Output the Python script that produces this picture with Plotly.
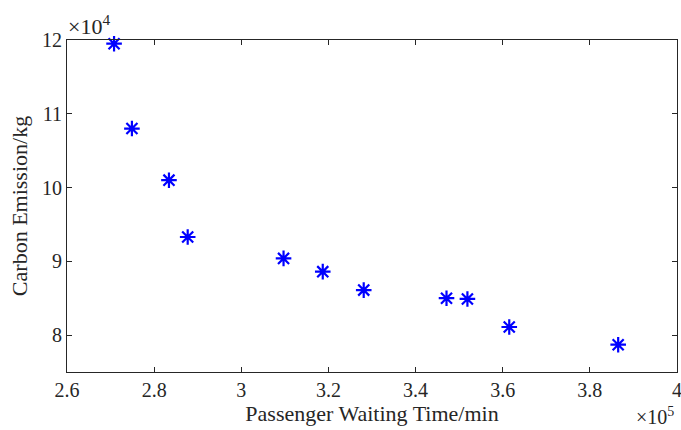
import plotly.graph_objects as go

waiting_time = [2.708, 2.749, 2.834, 2.877, 3.097, 3.187, 3.281, 3.471, 3.519, 3.615, 3.865]
carbon = [11.95, 10.80, 10.10, 9.33, 9.04, 8.86, 8.61, 8.50, 8.49, 8.11, 7.87]
x_ticks = [2.6, 2.8, 3.0, 3.2, 3.4, 3.6, 3.8, 4.0]
x_labels = ["2.6", "2.8", "3", "3.2", "3.4", "3.6", "3.8", "4"]
y_ticks = [8, 9, 10, 11, 12]
y_labels = ["8", "9", "10", "11", "12"]

FONT = "Liberation Serif, Times New Roman, serif"
INK = "#262626"

fig = go.Figure()
fig.add_trace(go.Scatter(
    x=waiting_time, y=carbon, mode="markers",
    marker=dict(symbol="asterisk-open", size=13, color="#0000ff",
                line=dict(color="#0000ff", width=2.2)),
    showlegend=False, cliponaxis=False,
))

axis_common = dict(
    showline=True, linecolor=INK, linewidth=1, mirror="ticks",
    ticks="inside", ticklen=5, tickcolor=INK, tickwidth=1,
    showgrid=False, zeroline=False, ticklabeloverflow="allow",
    tickfont=dict(family=FONT, size=20, color=INK),
)

fig.update_layout(
    width=681, height=430,
    margin=dict(l=67, r=4, t=40, b=58),
    paper_bgcolor="white", plot_bgcolor="white",
    xaxis=dict(range=[2.6, 4.0], tickvals=x_ticks, ticktext=x_labels,
               title=dict(text="Passenger Waiting Time/min", standoff=2,
                          font=dict(family=FONT, size=22, color=INK)),
               automargin=False, **axis_common),
    yaxis=dict(range=[7.5, 12], tickvals=y_ticks, ticktext=y_labels,
               title=dict(text="Carbon Emission/kg", standoff=8,
                          font=dict(family=FONT, size=22, color=INK)),
               automargin=False, **axis_common),
    annotations=[
        dict(text="×10<sup>4</sup>", xref="paper", yref="paper", x=0, y=1,
             xanchor="left", yanchor="bottom", showarrow=False, xshift=-1, yshift=-1,
             font=dict(family=FONT, size=22, color=INK)),
        dict(text="×10<sup>5</sup>", xref="paper", yref="paper", x=1, y=0,
             xanchor="right", yanchor="top", showarrow=False, yshift=-30, xshift=-1,
             font=dict(family=FONT, size=20, color=INK)),
    ],
)

fig.write_html("out.html")
